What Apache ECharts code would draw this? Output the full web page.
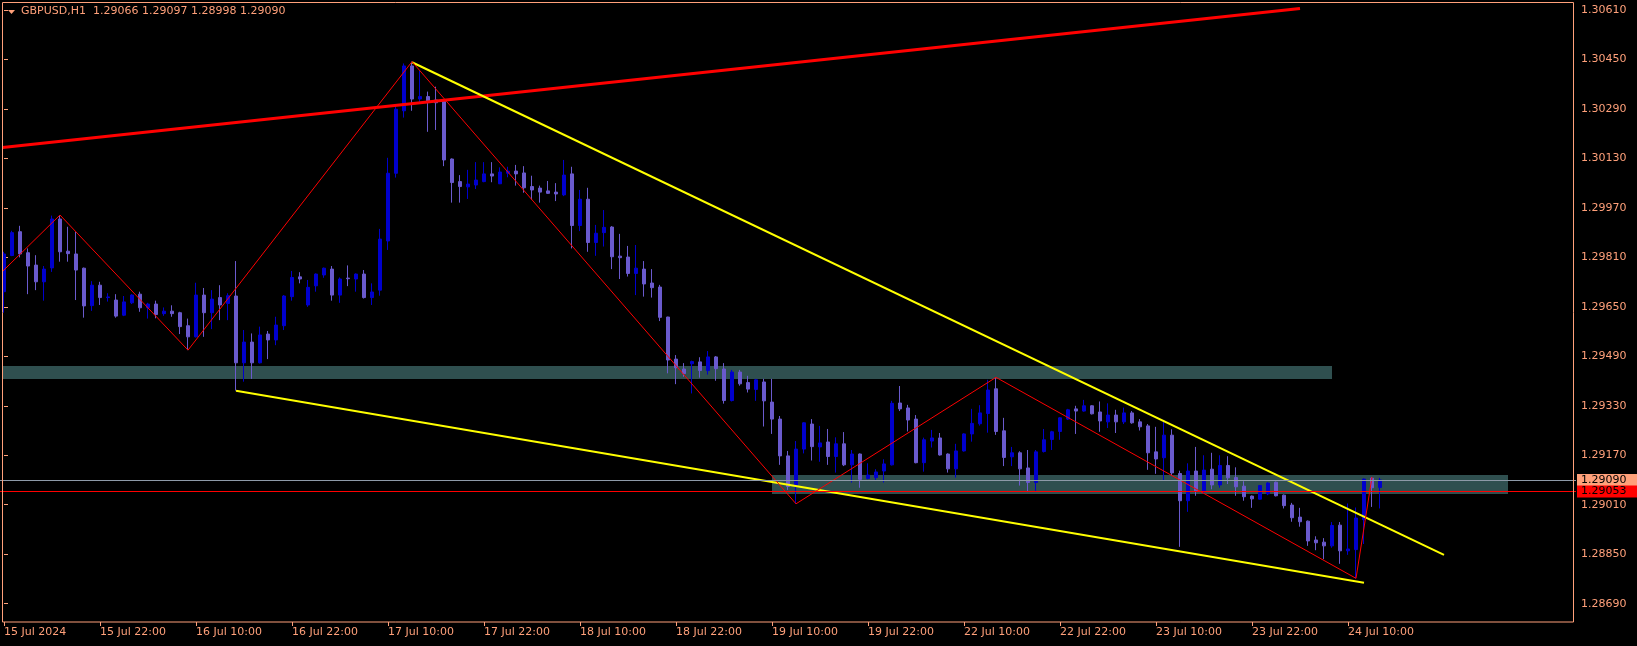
<!DOCTYPE html>
<html>
<head>
<meta charset="utf-8">
<script src="https://cdn.jsdelivr.net/npm/echarts@6/dist/echarts.min.js"></script>
<style>
html,body{margin:0;padding:0;background:#000;}
#chart{width:1637px;height:646px;}
</style>
</head>
<body>
<div id="chart"></div>
<script>
const SYMBOL = 'GBPUSD,H1';
const tickLabels = ['15 Jul 2024','15 Jul 22:00','16 Jul 10:00','16 Jul 22:00','17 Jul 10:00','17 Jul 22:00','18 Jul 10:00','18 Jul 22:00','19 Jul 10:00','19 Jul 22:00','22 Jul 10:00','22 Jul 22:00','23 Jul 10:00','23 Jul 22:00','24 Jul 10:00'];
const priceTicks = [1.30610,1.30450,1.30290,1.30130,1.29970,1.29810,1.29650,1.29490,1.29330,1.29170,1.29010,1.28850,1.28690];

const open = [1.29699,1.29816,1.29893,1.29825,1.29785,1.29731,1.29776,1.29934,1.29830,1.29821,
1.29775,1.29654,1.29720,1.29680,1.29672,1.29623,1.29663,1.29691,1.29647,1.29659,
1.29628,1.29636,1.29631,1.29589,1.29553,1.29688,1.29631,1.29680,1.29661,1.29685,
1.29469,1.29536,1.29469,1.29562,1.29543,1.29589,1.29683,1.29747,1.29656,1.29718,
1.29753,1.29772,1.29688,1.29743,1.29740,1.29756,1.29680,1.29704,1.29863,1.30082,
1.30284,1.30429,1.30322,1.30330,1.30319,1.30314,1.30128,1.30055,1.30038,1.30044,
1.30055,1.30080,1.30048,1.30082,1.30089,1.30083,1.30039,1.30034,1.30025,1.30021,
1.30012,1.30080,1.29913,1.29998,1.29858,1.29890,1.29908,1.29814,1.29811,1.29758,
1.29772,1.29727,1.29714,1.29617,1.29481,1.29449,1.29466,1.29472,1.29444,1.29488,
1.29449,1.29347,1.29439,1.29405,1.29383,1.29407,1.29342,1.29287,1.29168,1.29069,
1.29190,1.29271,1.29197,1.29213,1.29166,1.29207,1.29139,1.29174,1.29095,1.29098,
1.29119,1.29139,1.29339,1.29323,1.29287,1.29146,1.29216,1.29226,1.29174,1.29126,
1.29184,1.29239,1.29272,1.29305,1.29385,1.29249,1.29165,1.29178,1.29129,1.29082,
1.29182,1.29221,1.29247,1.29287,1.29320,1.29313,1.29330,1.29310,1.29278,1.29300,
1.29278,1.29307,1.29278,1.29265,1.29181,1.29162,1.29235,1.29111,1.29023,1.29119,
1.29055,1.29125,1.29074,1.29137,1.29098,1.29070,1.29038,1.29028,1.29045,1.29083,
1.29041,1.29009,1.28970,1.28957,1.28896,1.28889,1.28877,1.28944,1.28861,1.28865,
1.28962,1.29096,1.29066];

const high = [1.29828,1.29896,1.29912,1.29839,1.29817,1.29782,1.29945,1.29947,1.29909,1.29893,
1.29777,1.29733,1.29731,1.29694,1.29691,1.29685,1.29691,1.29699,1.29663,1.29670,
1.29648,1.29655,1.29634,1.29612,1.29728,1.29711,1.29704,1.29720,1.29694,1.29798,
1.29575,1.29564,1.29586,1.29572,1.29618,1.29688,1.29766,1.29762,1.29737,1.29758,
1.29777,1.29782,1.29745,1.29784,1.29758,1.29769,1.29726,1.29902,1.30132,1.30303,
1.30437,1.30443,1.30414,1.30346,1.30362,1.30319,1.30130,1.30076,1.30093,1.30118,
1.30118,1.30118,1.30101,1.30103,1.30109,1.30105,1.30074,1.30042,1.30057,1.30050,
1.30125,1.30103,1.30028,1.30035,1.29915,1.29963,1.29911,1.29886,1.29847,1.29850,
1.29798,1.29772,1.29721,1.29618,1.29494,1.29468,1.29476,1.29487,1.29507,1.29491,
1.29468,1.29446,1.29446,1.29427,1.29417,1.29417,1.29417,1.29297,1.29184,1.29216,
1.29277,1.29287,1.29265,1.29255,1.29228,1.29245,1.29187,1.29176,1.29144,1.29125,
1.29157,1.29346,1.29394,1.29333,1.29300,1.29227,1.29252,1.29242,1.29176,1.29207,
1.29241,1.29320,1.29332,1.29414,1.29422,1.29291,1.29197,1.29183,1.29187,1.29187,
1.29255,1.29249,1.29293,1.29320,1.29330,1.29349,1.29332,1.29344,1.29338,1.29317,
1.29324,1.29313,1.29287,1.29271,1.29262,1.29284,1.29254,1.29120,1.29144,1.29197,
1.29170,1.29178,1.29170,1.29167,1.29131,1.29086,1.29040,1.29073,1.29083,1.29085,
1.29043,1.29016,1.29000,1.28959,1.28908,1.28902,1.28954,1.28954,1.29014,1.29001,
1.29095,1.29100,1.29097];

const low = [1.29631,1.29814,1.29810,1.29691,1.29704,1.29670,1.29763,1.29796,1.29796,1.29672,
1.29615,1.29637,1.29656,1.29667,1.29615,1.29620,1.29659,1.29634,1.29612,1.29613,
1.29621,1.29618,1.29562,1.29510,1.29551,1.29553,1.29578,1.29607,1.29607,1.29379,
1.29408,1.29417,1.29467,1.29481,1.29526,1.29575,1.29670,1.29726,1.29650,1.29699,
1.29744,1.29670,1.29663,1.29717,1.29699,1.29677,1.29656,1.29686,1.29834,1.30068,
1.30262,1.30284,1.30308,1.30216,1.30222,1.30105,1.29987,1.29987,1.29999,1.30031,
1.30053,1.30053,1.30047,1.30069,1.30042,1.30019,1.29996,1.29987,1.30015,1.29992,
1.30008,1.29839,1.29895,1.29828,1.29815,1.29845,1.29772,1.29740,1.29748,1.29688,
1.29683,1.29680,1.29604,1.29435,1.29400,1.29424,1.29370,1.29421,1.29431,1.29411,
1.29337,1.29344,1.29395,1.29373,1.29346,1.29263,1.29239,1.29139,1.29058,1.29013,
1.29176,1.29153,1.29149,1.29139,1.29114,1.29135,1.29082,1.29065,1.29092,1.29090,
1.29082,1.29137,1.29313,1.29247,1.29144,1.29117,1.29195,1.29169,1.29114,1.29098,
1.29182,1.29214,1.29266,1.29243,1.29236,1.29135,1.29135,1.29072,1.29051,1.29055,
1.29179,1.29187,1.29220,1.29284,1.29239,1.29311,1.29302,1.29246,1.29258,1.29242,
1.29271,1.29272,1.29250,1.29123,1.29110,1.29090,1.29106,1.28874,1.28987,1.29039,
1.29046,1.29060,1.29065,1.29077,1.29039,1.29023,1.29000,1.29027,1.29041,1.29037,
1.28998,1.28955,1.28939,1.28877,1.28863,1.28834,1.28871,1.28819,1.28848,1.28772,
1.28883,1.29003,1.28998];

const close = [1.29821,1.29890,1.29821,1.29782,1.29731,1.29772,1.29934,1.29828,1.29822,1.29769,
1.29653,1.29720,1.29680,1.29682,1.29620,1.29666,1.29688,1.29647,1.29659,1.29625,
1.29636,1.29628,1.29586,1.29553,1.29688,1.29631,1.29675,1.29656,1.29686,1.29469,
1.29536,1.29469,1.29559,1.29543,1.29591,1.29685,1.29745,1.29740,1.29713,1.29756,
1.29775,1.29688,1.29740,1.29741,1.29756,1.29680,1.29698,1.29869,1.30082,1.30289,
1.30429,1.30322,1.30330,1.30316,1.30310,1.30125,1.30052,1.30039,1.30047,1.30060,
1.30080,1.30073,1.30086,1.30089,1.30080,1.30035,1.30028,1.30021,1.30017,1.30015,
1.30076,1.29913,1.29998,1.29858,1.29888,1.29907,1.29812,1.29809,1.29758,1.29775,
1.29724,1.29712,1.29616,1.29478,1.29453,1.29434,1.29473,1.29444,1.29488,1.29450,
1.29347,1.29439,1.29401,1.29384,1.29414,1.29346,1.29287,1.29168,1.29069,1.29190,
1.29275,1.29198,1.29210,1.29166,1.29207,1.29139,1.29174,1.29092,1.29106,1.29116,
1.29142,1.29338,1.29320,1.29284,1.29146,1.29220,1.29226,1.29171,1.29126,1.29184,
1.29239,1.29273,1.29307,1.29381,1.29247,1.29163,1.29178,1.29126,1.29082,1.29181,
1.29220,1.29246,1.29291,1.29317,1.29313,1.29330,1.29304,1.29281,1.29300,1.29278,
1.29307,1.29275,1.29262,1.29178,1.29158,1.29235,1.29113,1.29023,1.29119,1.29055,
1.29122,1.29074,1.29137,1.29097,1.29068,1.29036,1.29029,1.29072,1.29080,1.29039,
1.29007,1.28968,1.28955,1.28893,1.28887,1.28877,1.28943,1.28861,1.28867,1.28967,
1.29093,1.29065,1.29090];

// drawing objects, anchored at [bar index, price]
const zigzag = [[-0.17,1.29765],[7,1.29947],[23,1.29510],[51,1.30443],[99,1.29013],[124,1.29422],[169,1.28772],[171,1.29100]];
const redTrend = [[-0.17,1.30165],[162,1.30615]];
const yellowUpper = [[51,1.30441],[180,1.28848]];
const yellowLower = [[29,1.29379],[170,1.28758]];
const zones = [[-0.17,1.29459,166,1.29417],[96,1.29106,188,1.29045]];
const bidPrice = 1.29090;
const redLevel = 1.29053;

const SLOTS = 197; // bars plus right-side chart shift
const BAR_STEP = 12;
const FG = '#FFA07A';
const FONT = 'DejaVu Sans';

const categories = Array.from({length: SLOTS}, (_, i) => String(i));
const candles = open.map((o, i) => [o, close[i], low[i], high[i]]);
const n = open.length;
const header = SYMBOL + '  ' + [open[n-1], high[n-1], low[n-1], close[n-1]].map(v => v.toFixed(5)).join(' ');
const showTick = (idx) => idx % BAR_STEP === 0 && idx / BAR_STEP < tickLabels.length;

const chart = echarts.init(document.getElementById('chart'), null, {renderer: 'canvas'});
const option = {
  backgroundColor: '#000000',
  animation: false,
  grid: {left: 0, right: 61, top: 3, bottom: 24, containLabel: false},
  xAxis: [
    {
      type: 'category', data: categories, boundaryGap: true,
      axisLine: {show: false},
      axisTick: {show: true, alignWithLabel: true, length: 4, interval: (idx) => showTick(idx), lineStyle: {color: FG, width: 1}},
      axisLabel: {interval: (idx) => showTick(idx), align: 'left', margin: 5, color: FG, fontFamily: FONT, fontSize: 11,
        formatter: (v, idx) => showTick(idx) ? tickLabels[idx / BAR_STEP] : ''},
      splitLine: {show: false}
    },
    {type: 'value', min: -0.5, max: SLOTS - 0.5, show: false}
  ],
  yAxis: {
    type: 'value', position: 'right', offset: -2,
    min: 1.286308, max: 1.306326, scale: true,
    axisLine: {show: false},
    axisTick: {show: true, length: 4, customValues: priceTicks, lineStyle: {color: FG, width: 1}},
    axisLabel: {customValues: priceTicks, margin: 7, color: FG, fontFamily: FONT, fontSize: 11, formatter: (v) => v.toFixed(5)},
    splitLine: {show: false}
  },
  series: [
    {
      type: 'custom', xAxisIndex: 1, yAxisIndex: 0, z: 1, silent: true,
      data: zones,
      encode: {x: [0, 2], y: [1, 3]},
      renderItem: (params, api) => {
        const p0 = api.coord([api.value(0), api.value(1)]);
        const p1 = api.coord([api.value(2), api.value(3)]);
        return {type: 'rect', shape: {x: Math.min(p0[0], p1[0]), y: Math.min(p0[1], p1[1]), width: Math.abs(p1[0] - p0[0]), height: Math.abs(p1[1] - p0[1])}, style: {fill: '#2F4F4F'}};
      }
    },
    {
      type: 'candlestick', xAxisIndex: 0, yAxisIndex: 0, z: 2, data: candles, barWidth: 4,
      itemStyle: {color: '#0000CD', color0: '#6A5ACD', borderColor: '#0000CD', borderColor0: '#6A5ACD', borderWidth: 1},
      emphasis: {disabled: true}, silent: true
    },
    {type: 'line', xAxisIndex: 1, yAxisIndex: 0, z: 3, data: redTrend, symbol: 'none', silent: true, lineStyle: {color: '#FF0000', width: 3}},
    {type: 'line', xAxisIndex: 1, yAxisIndex: 0, z: 3, data: yellowUpper, symbol: 'none', silent: true, lineStyle: {color: '#FFFF00', width: 2}},
    {type: 'line', xAxisIndex: 1, yAxisIndex: 0, z: 3, data: yellowLower, symbol: 'none', silent: true, lineStyle: {color: '#FFFF00', width: 2}},
    {
      type: 'line', xAxisIndex: 1, yAxisIndex: 0, z: 4, data: zigzag, symbol: 'none', silent: true, lineStyle: {color: '#FF0000', width: 1},
      markLine: {
        symbol: 'none', silent: true, animation: false, precision: 5,
        data: [
          {yAxis: bidPrice, lineStyle: {color: '#8E9AA8', width: 1, type: 'solid'},
           label: {show: true, position: 'end', distance: 1, formatter: bidPrice.toFixed(5), color: '#000', backgroundColor: '#FFA07A', padding: [1, 40, 0, 4], fontFamily: FONT, fontSize: 11, lineHeight: 11}},
          {yAxis: redLevel, lineStyle: {color: '#FF0000', width: 1, type: 'solid'},
           label: {show: true, position: 'end', distance: 1, formatter: redLevel.toFixed(5), color: '#000', backgroundColor: '#FF0000', padding: [1, 40, 0, 4], fontFamily: FONT, fontSize: 11, lineHeight: 11}}
        ]
      }
    }
  ],
  graphic: [
    {type: 'rect', z: 100, silent: true, shape: {x: 2.5, y: 2.5, width: 1571, height: 619.5}, style: {fill: null, stroke: FG, lineWidth: 1}},
    {type: 'polygon', z: 101, silent: true, shape: {points: [[8, 10], [15, 10], [11.5, 14]]}, style: {fill: FG}},
    {type: 'text', z: 101, silent: true, left: 21, top: 6, style: {text: header, fill: FG, font: '11px "DejaVu Sans"'}}
  ]
};
chart.setOption(option);
</script>
</body>
</html>
